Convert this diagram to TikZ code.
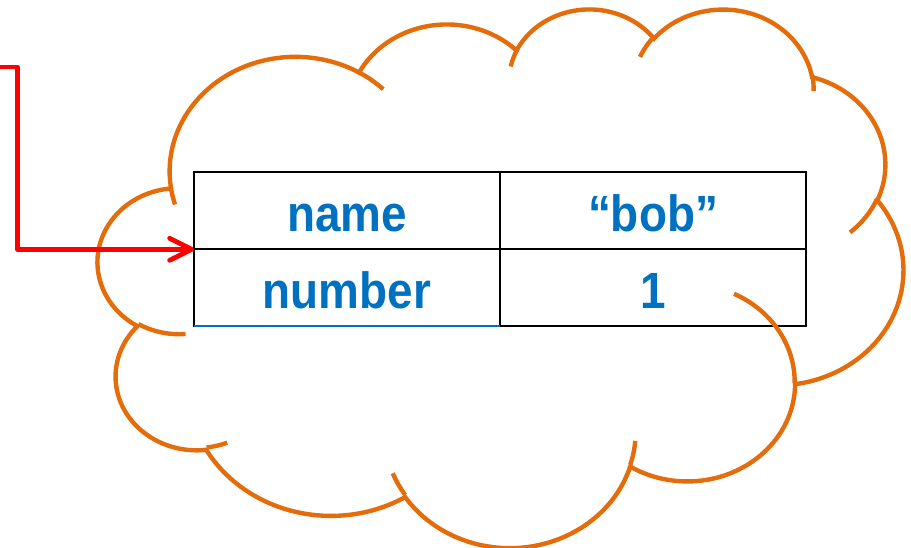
\documentclass[tikz,border=0pt]{standalone}
\usepackage{fontspec}
\usepackage{tikz}
\usetikzlibrary{arrows.meta,positioning}
\newfontfamily\cellfont[FakeStretch=0.9]{Liberation Sans}
\definecolor{cellblue}{RGB}{0,112,192}
\definecolor{cloudorange}{RGB}{228,108,10}

\begin{document}
\begin{tikzpicture}[
	declare function={eang(\ang,\rx,\ry)=\ang+asin(sin(atan2(\rx*sin(\ang),\ry*cos(\ang))-\ang));},
	cell/.style={draw=black, line width=1.3pt, minimum width=6.12cm, minimum height=1.54cm, inner sep=0pt, outer sep=0pt,
		text height=0.82cm, text depth=0pt, text=cellblue, font=\cellfont\bfseries\fontsize{29}{34}\selectfont},
	lobe/.style={draw=cloudorange, line width=2.5pt},
	ptr/.style={red, line width=2.7pt, line join=round, -{Straight Barb[length=4.4mm, width=4.4mm, round]}}]
	\useasboundingbox (0,0) rectangle (18.22,10.94);
	\node[cell] (name) at (6.94,6.724) {name};
	\node[cell, right=0pt of name] (bob) {“bob”};
	\node[cell, below=0pt of name] (number) {number};
	\node[cell, below=0pt of bob] (one) {1};
	\draw[cellblue, line width=1.3pt] (number.south west) -- (number.south east);
	\begin{scope}[shift={(1.962,10.786)}, xscale=0.3727, yscale=-0.2493]
		\draw[lobe] (3.9,14.37) \foreach \w/\h/\st/\sw in {6.753/9.190/-190.4875/123.7805, 5.333/7.267/-144.1024/89.9452,
			4.365/5.945/-145.8079/99.7230, 4.857/6.595/-130.9861/117.2417, 5.333/7.273/-78.7089/109.0269,
			6.775/9.220/-46.2673/130.2690, 5.785/7.867/0.6250/114.0333, 6.752/9.215/22.4516/115.1726,
			7.720/10.543/66.2426/75.7110, 4.360/5.918/-274.9421/146.7356, 4.345/5.945/-246.8285/152.5189} {
			arc[start angle={eang(\st,\w,\h)}, end angle={eang(\st+\sw,\w,\h)}, x radius=\w, y radius=\h]} -- cycle;
		\foreach \x/\y/\w/\h/\st/\sw in {4.693/26.177/4.345/5.945/86.7420/26.4295, 6.928/34.899/4.360/5.918/73.6105/11.4475,
			16.478/39.090/6.752/9.215/137.6242/14.0811, 28.827/34.751/6.752/9.215/6.4533/15.9984,
			34.129/22.954/5.785/7.867/-70.2924/70.9174, 41.798/15.354/5.333/7.273/30.3180/27.7515,
			38.324/5.426/4.857/6.595/-13.7443/14.8589, 29.078/3.952/4.857/6.595/-149.1815/18.1954,
			22.141/4.720/4.365/5.945/-163.4943/17.6864, 14.000/5.192/6.753/9.190/-66.7070/12.3194,
			4.127/15.789/6.753/9.190/157.6544/11.8582}
			\draw[lobe] (\x,\y) arc[start angle={eang(\st,\w,\h)}, end angle={eang(\st+\sw,\w,\h)}, x radius=\w, y radius=\h];
	\end{scope}
	\coordinate (feed) at (0,9.60);
	\draw[ptr] (feed) -- ++(0.346,0) |- (name.south west);
\end{tikzpicture}
\end{document}
